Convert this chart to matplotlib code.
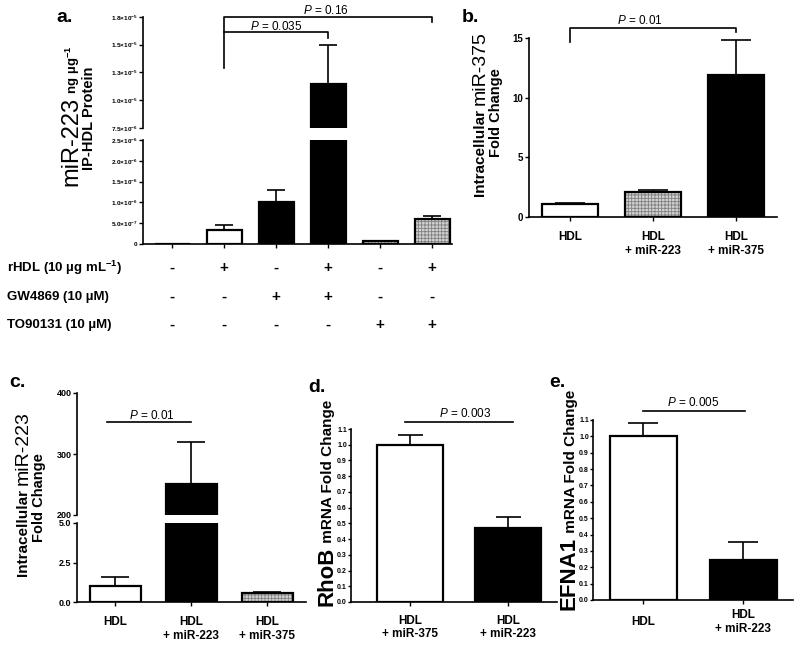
import numpy as np
import matplotlib
matplotlib.use("Agg")
import matplotlib.pyplot as plt
from matplotlib.transforms import blended_transform_factory

plt.rcParams['font.family'] = ['Liberation Sans', 'DejaVu Sans']
plt.rcParams['font.weight'] = 'bold'
plt.rcParams['mathtext.fontset'] = 'custom'
plt.rcParams['mathtext.rm'] = 'Liberation Sans:weight=normal'
plt.rcParams['mathtext.it'] = 'Liberation Sans:style=italic:weight=normal'
plt.rcParams['mathtext.bf'] = 'Liberation Sans:weight=bold'
plt.rcParams['axes.linewidth'] = 1.2
plt.rcParams['hatch.linewidth'] = 0.6

# ---- data ----
# a. miR-223 in IP-HDL (ng / ug protein)
a_mean = [0.0, 3.3e-7, 1.0e-6, 1.15e-5, 7e-8, 5.9e-7]
a_err = [0.0, 1.2e-7, 3.0e-7, 3.5e-6, 0.0, 9e-8]
a_rhdl = ['-', '+', '-', '+', '-', '+']
a_gw = ['-', '-', '+', '+', '-', '-']
a_to = ['-', '-', '-', '-', '+', '+']
a_rows = [r"rHDL (10 µg mL$^{\mathbf{-1}}$)", "GW4869 (10 µM)", "TO90131 (10 µM)"]
a_lo_ticks = [0, 5e-7, 1e-6, 1.5e-6, 2e-6, 2.5e-6]
a_lo_labels = ["0", "5.0", "1.0", "1.5", "2.0", "2.5"]
a_lo_exp = [0, -7, -6, -6, -6, -6]
a_hi_ticks = [7.5e-6, 1e-5, 1.25e-5, 1.5e-5, 1.75e-5]
a_hi_labels = ["7.5", "1.0", "1.3", "1.5", "1.8"]
a_hi_exp = [-6, -5, -5, -5, -5]

# b. intracellular miR-375
b_labels = ["HDL", "HDL\n+ miR-223", "HDL\n+ miR-375"]
b_mean = [1.05, 2.1, 11.9]
b_err = [0.1, 0.2, 2.9]

# c. intracellular miR-223
c_labels = ["HDL", "HDL\n+ miR-223", "HDL\n+ miR-375"]
c_mean = [1.0, 251, 0.55]
c_err = [0.6, 69, 0.1]

# d. RhoB mRNA
d_labels = ["HDL\n+ miR-375", "HDL\n+ miR-223"]
d_mean = [1.0, 0.47]
d_err = [0.065, 0.07]

# e. EFNA1 mRNA
e_labels = ["HDL", "HDL\n+ miR-223"]
e_mean = [1.0, 0.245]
e_err = [0.08, 0.11]

W, H = 800, 646
fig = plt.figure(figsize=(8, 6.46), dpi=100)


def box(x0, y0, x1, y1):
    return [x0 / W, 1 - y1 / H, (x1 - x0) / W, (y1 - y0) / H]


def style(ax, show_x=True, ysize=6, ylen=3):
    ax.spines['top'].set_visible(False)
    ax.spines['right'].set_visible(False)
    ax.tick_params(direction='out', length=3, width=1.0, labelsize=ysize, pad=1.5)
    ax.tick_params(axis='y', length=ylen, pad=1)
    ax.patch.set_alpha(0)
    if not show_x:
        ax.spines['bottom'].set_visible(False)
        ax.tick_params(axis='x', bottom=False, labelbottom=False)


def draw_bars(ax, vals, errs, fills, capsize=8):
    x = np.arange(len(vals))
    for xi, v, f in zip(x, vals, fills):
        if f == 'hatch':
            ax.bar(xi, v, 0.67, color='#d2d2d2', edgecolor='#808080', hatch='+++++', linewidth=0)
            ax.bar(xi, v, 0.67, facecolor='none', edgecolor='black', linewidth=1.6)
        else:
            ax.bar(xi, v, 0.67, color=f, edgecolor='black', linewidth=1.6)
    errs = np.asarray(errs)
    m = errs > 0
    ax.errorbar(x[m], np.asarray(vals)[m], yerr=[np.zeros(m.sum()), errs[m]], fmt='none',
                ecolor='black', elinewidth=1.2, capsize=capsize, capthick=1.2)


def pval(ax, x0, x1, y, ty, txt, tx=None):
    ax.plot([x0, x1], [y, y], color='black', lw=1.2, clip_on=False)
    if tx is None:
        tx = (x0 + x1) / 2
    ax.text(tx, ty, txt, ha='center', va='center', fontsize=8.5, fontweight='normal', clip_on=False)


def stacked_label(parts, x_base, y_center):
    # rotated pieces sharing one baseline, drawn bottom to top
    r = fig.canvas.get_renderer()
    texts = [fig.text(0, 0, s, fontsize=size, fontweight=wt, rotation=90,
                      rotation_mode='anchor', ha='left', va='baseline')
             for s, size, wt in parts]
    lens = [t.get_window_extent(r).height for t in texts]
    y = y_center + sum(lens) / 2
    for t, L in zip(texts, lens):
        t.set_position((x_base / W, 1 - y / H))
        y -= L


def sci(m, e):
    if e == 0:
        return "0"
    return r"$\mathbf{%s{\times}10^{%d}}$" % (m, e)


# ---------------- panel a ----------------
a_fill = ['white', 'white', 'black', 'black', 'hatch', 'hatch']
axa_lo = fig.add_axes(box(143, 140, 452, 244))
axa_hi = fig.add_axes(box(143, 17, 452, 128))
for ax in (axa_lo, axa_hi):
    draw_bars(ax, a_mean, a_err, a_fill, capsize=6.5)
    ax.set_xlim(-0.56, 5.38)
style(axa_lo, ysize=4.6)
style(axa_hi, show_x=False, ysize=4.6)
axa_lo.set_ylim(0, 2.5e-6)
axa_hi.set_ylim(7.5e-6, 1.75e-5)
axa_lo.set_yticks(a_lo_ticks)
axa_lo.set_yticklabels([sci(m, e) for m, e in zip(a_lo_labels, a_lo_exp)])
axa_hi.set_yticks(a_hi_ticks)
axa_hi.set_yticklabels([sci(m, e) for m, e in zip(a_hi_labels, a_hi_exp)])
axa_lo.set_xticks(range(6))
axa_lo.set_xticklabels([])

# significance brackets
axa_hi.plot([1, 1, 5, 5], [1.29e-5, 1.75e-5, 1.75e-5, 1.705e-5], color='black', lw=1.2, clip_on=False)
axa_hi.plot([1, 3, 3], [1.615e-5, 1.615e-5, 1.56e-5], color='black', lw=1.2, clip_on=False)
axa_hi.text(2.95, 1.81e-5, r"$P$ = 0.16", ha='center', va='center', fontsize=8.5, fontweight='normal')
axa_hi.text(2.0, 1.665e-5, r"$P$ = 0.035", ha='center', va='center', fontsize=8.5, fontweight='normal')

stacked_label([("miR-223", 17, 'normal'), (r" ng µg$^{\mathbf{-1}}$", 9.5, 'bold')], 77, 116)
stacked_label([("IP-HDL Protein", 10.5, 'bold')], 93, 118)

# treatment table
tr = blended_transform_factory(axa_lo.transData, fig.transFigure)
for row, signs, y in zip(a_rows, [a_rhdl, a_gw, a_to], [268, 297, 325]):
    fig.text(7 / W, 1 - y / H, row, fontsize=9.5, ha='left', va='center')
    for i, s in enumerate(signs):
        fig.text(i, 1 - y / H, s, transform=tr, fontsize=11, ha='center', va='center')

# ---------------- panel b ----------------
axb = fig.add_axes(box(529, 38, 777, 217))
draw_bars(axb, b_mean, b_err, ['white', 'hatch', 'black'], capsize=11)
style(axb, ysize=7)
axb.set_xlim(-0.49, 2.49)
axb.set_ylim(0, 15)
axb.set_yticks([0, 5, 10, 15])
axb.set_xticks(range(3))
axb.set_xticklabels(b_labels, fontsize=8.5)
axb.tick_params(axis='x', pad=7)
axb.plot([0, 0, 2, 2], [14.66, 15.84, 15.84, 15.5], color='black', lw=1.2, clip_on=False)
axb.text(0.84, 16.5, r"$P$ = 0.01", ha='center', va='center', fontsize=8.5, fontweight='normal')
stacked_label([("Intracellular ", 11, 'bold'), ("miR-375", 14, 'normal')], 485, 114)
stacked_label([("Fold Change", 10.5, 'bold')], 500, 113)

# ---------------- panel c ----------------
c_fill = ['white', 'black', 'hatch']
axc_lo = fig.add_axes(box(77, 523, 306, 602))
axc_hi = fig.add_axes(box(77, 393, 306, 515))
for ax in (axc_lo, axc_hi):
    draw_bars(ax, c_mean, c_err, c_fill, capsize=10)
    ax.set_xlim(-0.5, 2.51)
style(axc_lo, ysize=6.5)
style(axc_hi, show_x=False, ysize=6.5)
axc_lo.set_ylim(0, 5)
axc_lo.set_yticks([0, 2.5, 5.0])
axc_lo.set_yticklabels(["0.0", "2.5", "5.0"])
axc_hi.set_ylim(200, 400)
axc_hi.set_yticks([200, 300, 400])
axc_lo.set_xticks(range(3))
axc_lo.set_xticklabels(c_labels, fontsize=8.5)
axc_lo.tick_params(axis='x', pad=7)
pval(axc_hi, -0.1, 1.0, 352, 363, r"$P$ = 0.01", tx=0.48)
stacked_label([("Intracellular ", 11, 'bold'), ("miR-223", 14, 'normal')], 28, 494)
stacked_label([("Fold Change", 10.5, 'bold')], 43, 498)

# ---------------- panel d ----------------
ticks_01 = np.arange(0, 1.11, 0.1)
axd = fig.add_axes(box(351, 429, 557, 602))
draw_bars(axd, d_mean, d_err, ['white', 'black'], capsize=9)
style(axd, ysize=5, ylen=2)
axd.set_xlim(-0.6, 1.5)
axd.set_ylim(0, 1.1)
axd.set_yticks(ticks_01)
axd.set_yticklabels(["%.1f" % v for v in ticks_01])
axd.set_xticks(range(2))
axd.set_xticklabels(d_labels, fontsize=8.5)
axd.tick_params(axis='x', pad=6)
pval(axd, -0.05, 1.05, 1.144, 1.2, r"$P$ = 0.003", tx=0.56)
stacked_label([("RhoB", 16, 'bold'), (" mRNA Fold Change", 11, 'bold')], 332, 503)

# ---------------- panel e ----------------
axe = fig.add_axes(box(593, 420, 793, 600))
draw_bars(axe, e_mean, e_err, ['white', 'black'], capsize=11)
style(axe, ysize=5, ylen=2)
axe.set_xlim(-0.5, 1.5)
axe.set_ylim(0, 1.1)
axe.set_yticks(ticks_01)
axe.set_yticklabels(["%.1f" % v for v in ticks_01])
axe.set_xticks(range(2))
axe.set_xticklabels(e_labels, fontsize=8.5, va='center')
axe.tick_params(axis='x', pad=13)
pval(axe, 0.0, 1.02, 1.155, 1.21, r"$P$ = 0.005", tx=0.5)
stacked_label([("EFNA1", 16, 'bold'), (" mRNA Fold Change", 11, 'bold')], 575, 500)

# panel letters
for s, x, y in [("a.", 65, 18), ("b.", 470, 17), ("c.", 17, 382), ("d.", 317, 387), ("e.", 557, 382)]:
    fig.text(x / W, 1 - y / H, s, fontsize=14, fontweight='bold', ha='center', va='center')

fig.savefig("out.png", dpi=100)
